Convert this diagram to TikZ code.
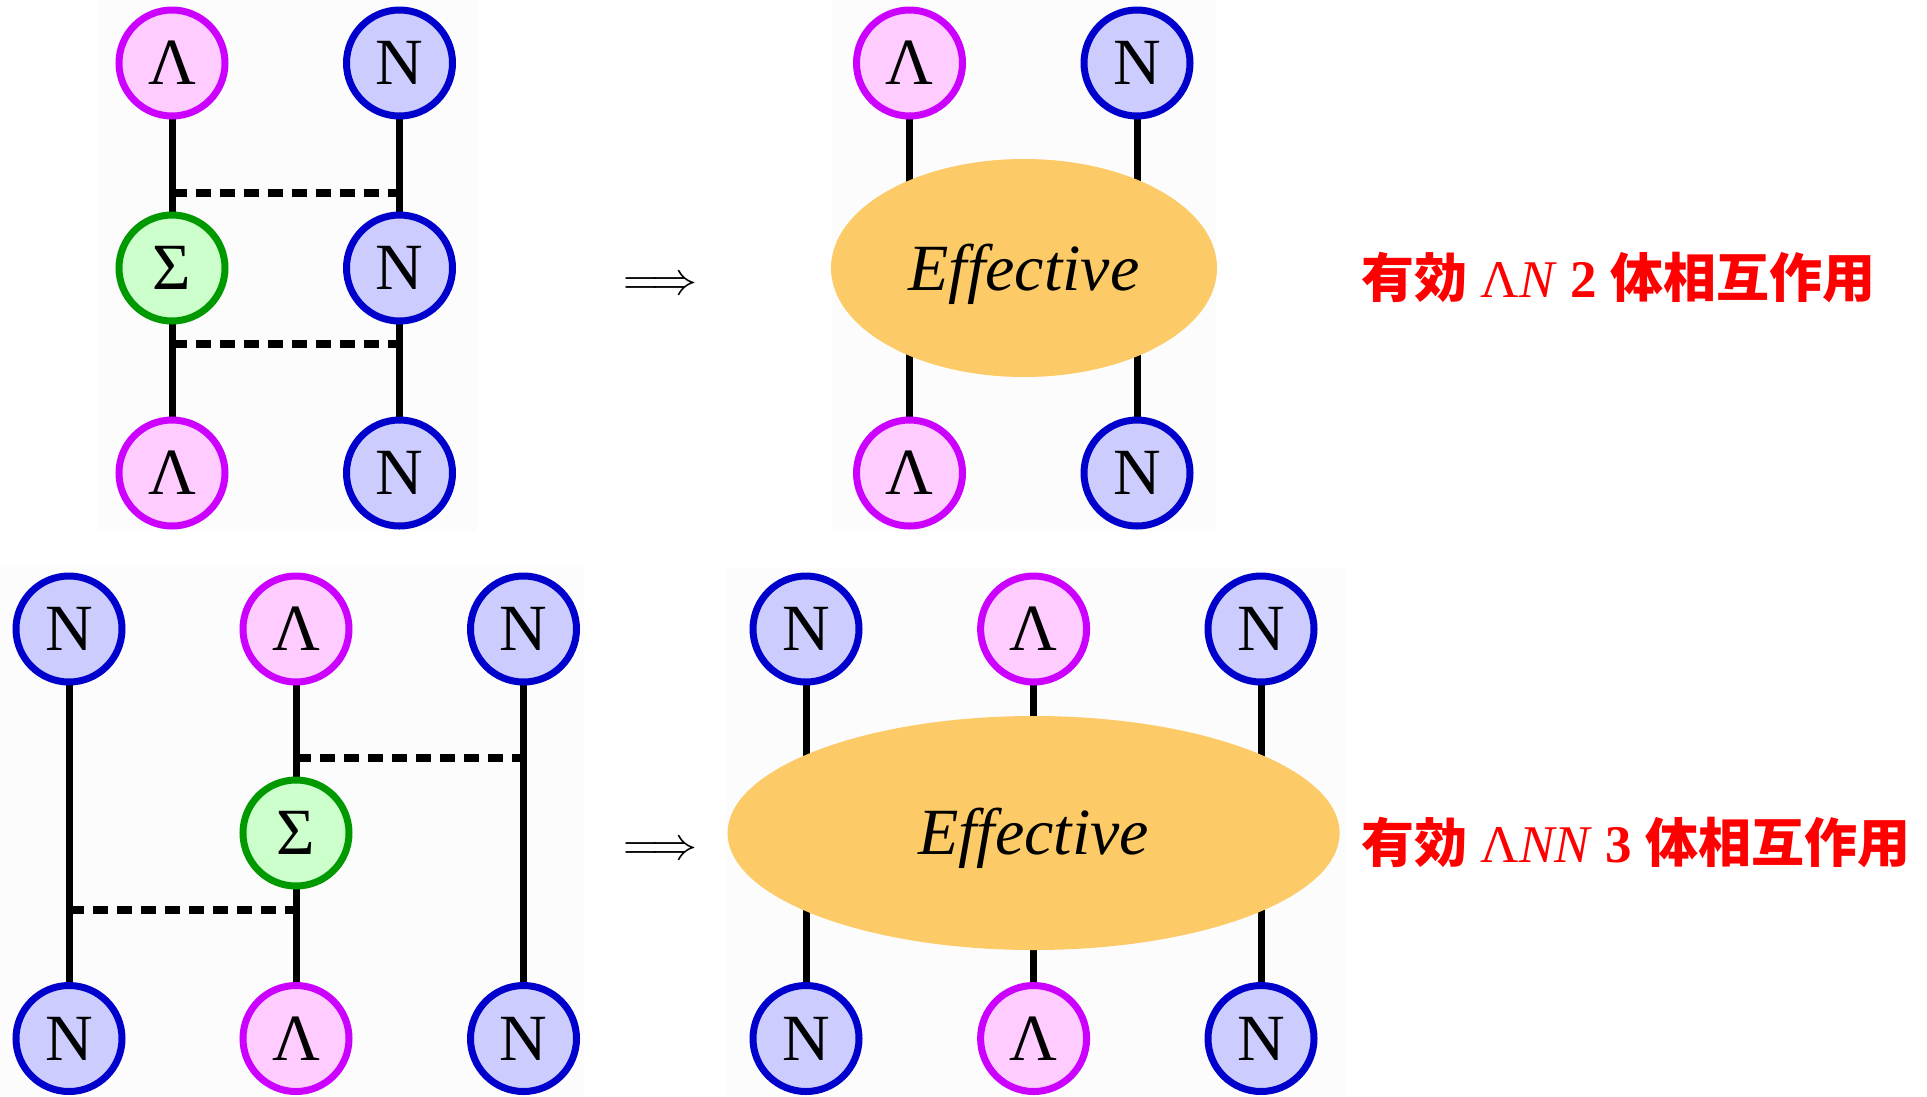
\documentclass[tikz,border=0pt]{standalone}
\usepackage{fontspec}
\setmainfont{Liberation Serif}
\newfontfamily\cjk{Noto Sans CJK JP}
\usetikzlibrary{backgrounds,shapes.geometric}

\definecolor{lamdraw}{HTML}{CC00FF}
\definecolor{lamfill}{HTML}{FFCCFF}
\definecolor{nucdraw}{HTML}{0000CC}
\definecolor{nucfill}{HTML}{CCCCFF}
\definecolor{sigdraw}{HTML}{009900}
\definecolor{sigfill}{HTML}{CCFFCC}
\definecolor{effcol}{HTML}{FCCA66}
\definecolor{panelcol}{HTML}{FCFCFC}

\tikzset{
  particle/.style={circle, minimum size=106pt, inner sep=0pt, line width=7pt,
    font=\fontsize{66}{66}\selectfont},
  lam/.style={particle, draw=lamdraw, fill=lamfill},
  nuc/.style={particle, draw=nucdraw, fill=nucfill},
  sig/.style={particle, draw=sigdraw, fill=sigfill},
  legline/.style={line width=7pt},
  meson/.style={line width=8pt, dash pattern=on 15pt off 9pt},
  effblob/.style={ellipse, fill=effcol, inner sep=0pt},
  efftext/.style={anchor=base, font=\itshape\fontsize{66}{66}\selectfont},
  impl/.style={anchor=base, inner sep=0pt, scale=4.6},
  restext/.style={anchor=base west, text=red, font=\fontsize{53}{53}\selectfont},
  panel/.style={fill=panelcol}
}

\begin{document}
\begin{tikzpicture}[x=1pt,y=-1pt]
\useasboundingbox (0,0) rectangle (1927,1096);

% faint panels behind the four diagrams
\begin{scope}[on background layer]
  \fill[panel] (97,0) rectangle (477,531);
  \fill[panel] (832,0) rectangle (1216,531);
  \fill[panel] (0,565) rectangle (584,1096);
  \fill[panel] (727,568) rectangle (1345,1096);
\end{scope}

% ---------- Lambda N via Sigma (two-body) ----------
\node[lam] (tlL1) at (172,63) {Λ};
\node[nuc] (tlN1) at (399.5,63) {N};
\node[sig] (tlS)  at (172,268) {Σ};
\node[nuc] (tlN2) at (399.5,268) {N};
\node[lam] (tlL2) at (172,473) {Λ};
\node[nuc] (tlN3) at (399.5,473) {N};
\coordinate (tlm1a) at (172,193);
\coordinate (tlm1b) at (399.5,193);
\coordinate (tlm2a) at (172,344);
\coordinate (tlm2b) at (399.5,344);
\begin{scope}[on background layer]
  \draw[legline] (tlL1.center) -- (tlS.center);
  \draw[legline] (tlS.center) -- (tlL2.center);
  \draw[legline] (tlN1.center) -- (tlN2.center);
  \draw[legline] (tlN2.center) -- (tlN3.center);
\end{scope}
\draw[meson] (tlm1a) -- (tlm1b);
\draw[meson] (tlm2a) -- (tlm2b);

\node[impl] (arr1) at (660,294.5) {$\Longrightarrow$};

% ---------- effective two-body ----------
\node[lam] (trL1) at (909.5,63) {Λ};
\node[nuc] (trN1) at (1137,63) {N};
\node[lam] (trL2) at (909.5,473) {Λ};
\node[nuc] (trN2) at (1137,473) {N};
\begin{scope}[on background layer]
  \draw[legline] (trL1.center) -- (trL2.center);
  \draw[legline] (trN1.center) -- (trN2.center);
\end{scope}
\node[effblob, minimum width=386pt, minimum height=218pt] (trE) at (1024,268) {};
\node[efftext] (trEt) at (1024,290) {Effective};

\node[restext] (txt2) at (1358,297)
  {{\cjk\bfseries 有効} Λ\textit{N} \textbf{2} {\cjk\bfseries 体相互作用}};

% ---------- Lambda N N via Sigma (three-body) ----------
\node[nuc] (blN1) at (69,629) {N};
\node[lam] (blL1) at (296,629) {Λ};
\node[nuc] (blN2) at (523.5,629) {N};
\node[sig] (blS)  at (296,833) {Σ};
\node[nuc] (blN3) at (69,1038.5) {N};
\node[lam] (blL2) at (296,1038.5) {Λ};
\node[nuc] (blN4) at (523.5,1038.5) {N};
\coordinate (blm1a) at (296,758);
\coordinate (blm1b) at (523.5,758);
\coordinate (blm2a) at (69,909.5);
\coordinate (blm2b) at (296,909.5);
\begin{scope}[on background layer]
  \draw[legline] (blN1.center) -- (blN3.center);
  \draw[legline] (blL1.center) -- (blS.center);
  \draw[legline] (blS.center) -- (blL2.center);
  \draw[legline] (blN2.center) -- (blN4.center);
\end{scope}
\draw[meson] (blm1a) -- (blm1b);
\draw[meson] (blm2a) -- (blm2b);

\node[impl] (arr2) at (660,859.5) {$\Longrightarrow$};

% ---------- effective three-body ----------
\node[nuc] (brN1) at (806,629) {N};
\node[lam] (brL1) at (1033.6,629) {Λ};
\node[nuc] (brN2) at (1261,629) {N};
\node[nuc] (brN3) at (806,1038.5) {N};
\node[lam] (brL2) at (1033.6,1038.5) {Λ};
\node[nuc] (brN4) at (1261,1038.5) {N};
\begin{scope}[on background layer]
  \draw[legline] (brN1.center) -- (brN3.center);
  \draw[legline] (brL1.center) -- (brL2.center);
  \draw[legline] (brN2.center) -- (brN4.center);
\end{scope}
\node[effblob, minimum width=612pt, minimum height=234pt] (brE) at (1033.6,833) {};
\node[efftext] (brEt) at (1033.6,854) {Effective};

\node[restext] (txt3) at (1358,862)
  {{\cjk\bfseries 有効} Λ\textit{NN} \textbf{3} {\cjk\bfseries 体相互作用}};
\end{tikzpicture}
\end{document}
